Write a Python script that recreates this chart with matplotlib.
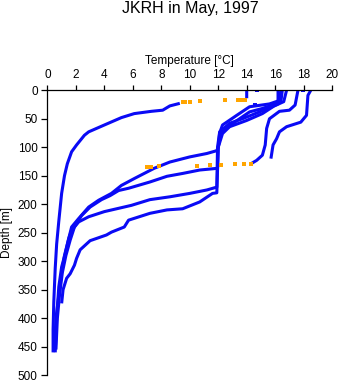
import numpy as np
import matplotlib
matplotlib.use("Agg")
import matplotlib.pyplot as plt

plt.rcParams["font.family"] = ["Liberation Sans", "DejaVu Sans"]

# ================== DATA ==================
nan = np.nan

# profile 1: cold one (surface bit, gap with flagged points, then deep part)
p1_temp = [14.0, 14.0, nan, 9.3, 8.6, 8.1, 7.3, 6.1, 5.2, 4.0, 2.9, 2.6, 2.05, 1.7, 1.4, 1.2, 1.0, 0.8, 0.65, 0.55, 0.45, 0.4, 0.4]
p1_depth = [0, 14, nan, 23, 27.5, 35, 37, 41, 48, 61, 73, 79, 96, 108, 129, 150, 181, 230, 270, 312, 371, 420, 460]

# profiles 2-5: 12 degC layer, leaving it at different depths
p2_temp = [16.4, 16.3, 15.6, 14.2, 13.3, 12.3, 12.1, 12.0, 11.9, 11.2, 10.0, 8.6, 7.5, 6.1, 5.2, 4.5, 3.6, 2.9, 2.2, 1.7, 1.5, 1.25, 1.0, 0.8, 0.65, 0.55]
p2_depth = [0, 18, 24, 29, 44, 61, 75, 100, 106, 111, 117, 126, 137, 155, 167, 181, 193, 205, 225, 240, 260, 287, 310, 345, 400, 460]

p3_temp = [16.5, 16.4, 15.8, 15.1, 14.2, 13.5, 12.8, 12.2, 12.0, 11.95, 10.7, 9.5, 8.4, 7.2, 5.7, 5.0, 4.4, 3.8, 3.0, 2.4, 1.9, 1.6, 1.3, 1.05, 0.85, 0.7, 0.6]
p3_depth = [0, 20, 26, 32, 38, 50, 62, 75, 100, 137, 140, 146, 151, 161, 172, 176, 185, 192, 205, 220, 240, 263, 290, 320, 360, 400, 455]

p4_temp = [16.2, 16.2, 15.5, 14.9, 13.7, 12.8, 12.1, 11.95, 11.9, 11.2, 10.0, 8.6, 7.2, 5.9, 4.0, 2.9, 2.2, 1.7, 1.5, 1.2, 1.0, 0.8, 0.6, 0.5]
p4_depth = [0, 24, 32, 38, 50, 58, 73, 100, 170, 175, 181, 187, 192, 202, 213, 222, 231, 246, 260, 290, 320, 360, 400, 455]

p5_temp = [16.8, 16.6, 15.9, 15.1, 14.0, 12.8, 12.3, 12.0, 11.9, 11.6, 10.7, 9.5, 8.4, 7.2, 5.7, 5.4, 4.5, 4.15, 3.0, 2.3, 2.05, 1.9, 1.6, 1.35, 1.1, 1.0]
p5_depth = [0, 20, 28, 41, 53, 64, 76, 100, 180, 181, 196, 208, 210, 216, 228, 240, 249, 254, 264, 280, 295, 307, 322, 330, 350, 374]

# two warm profiles, short casts
r1_temp = [18.5, 18.3, 18.2, 17.8, 16.8, 16.3, 16.1, 15.85, 15.7]
r1_depth = [0, 9, 44, 56, 64, 73, 85, 96, 120]

r2_temp = [17.6, 17.4, 17.0, 16.3, 15.6, 15.4, 15.3, 15.1, 14.7, 14.3]
r2_depth = [0, 26, 35, 37, 50, 67, 96, 114, 123, 129]

# single blue points
stray_temp = [14.7, 14.6, 17.95]
stray_depth = [0, 26, 0]

# flagged (orange) points
flag_temp = [9.5, 9.7, 10.0, 10.7, 12.5, 13.4, 13.6, 13.9,
             14.3, 13.8, 13.2, 12.2, 11.4, 10.5, 7.85, 7.3, 7.0]
flag_depth = [20.5, 20.5, 20.5, 18.7, 17.5, 16.3, 16.3, 16.3,
              129, 129, 130, 131, 131, 133, 133, 134.5, 135.5]

profiles = [(p1_temp, p1_depth), (p2_temp, p2_depth), (p3_temp, p3_depth),
            (p4_temp, p4_depth), (p5_temp, p5_depth), (r1_temp, r1_depth),
            (r2_temp, r2_depth)]

BLUE = "#0a0af5"
ORANGE = "#ffa500"

# ================== PLOT ==================
fig = plt.figure(figsize=(3.41, 3.84), dpi=100)
ax = fig.add_axes([0.139, 0.023, 0.835, 0.742])

for t, d in profiles:
    ax.plot(t, d, color=BLUE, lw=2.2, solid_capstyle="butt")
ax.plot(stray_temp, stray_depth, ls="none", marker="s", ms=2.6, mew=0, color=BLUE)
ax.plot(flag_temp, flag_depth, ls="none", marker="s", ms=2.4, mew=0, color=ORANGE)

ax.set_xlim(0, 20)
ax.set_ylim(500, 0)
ax.set_xticks(np.arange(0, 21, 2))
ax.set_yticks(np.arange(0, 501, 50))

ax.xaxis.tick_top()
ax.xaxis.set_label_position("top")
for s in ["right", "bottom"]:
    ax.spines[s].set_visible(False)
for s in ["top", "left"]:
    ax.spines[s].set_linewidth(0.9)
ax.tick_params(axis="x", length=3.6, width=0.9, pad=3, labelsize=8.5)
ax.tick_params(axis="y", length=4, width=0.9, pad=3, labelsize=8.5)

ax.set_xlabel("Temperature [\u00b0C]", fontsize=8.5)
ax.xaxis.set_label_coords(0.5, 1.104)
ax.xaxis.label.set_va("center")
ax.set_ylabel("Depth [m]", fontsize=8.5)
ax.yaxis.set_label_coords(-0.142, 0.5)
ax.yaxis.label.set_va("center")

fig.suptitle("JKRH in May, 1997", x=0.557, y=0.979, va="center", fontsize=11.5)

fig.savefig("out.png", dpi=100)
